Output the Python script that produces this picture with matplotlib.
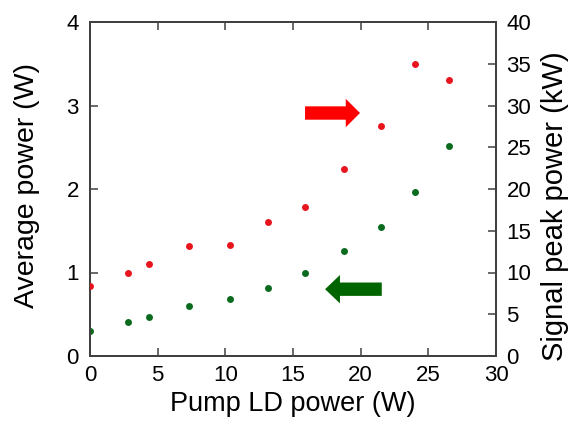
import matplotlib
matplotlib.use("Agg")
import matplotlib.pyplot as plt
from matplotlib.patches import FancyArrow

plt.rcParams['font.family'] = ['Liberation Sans', 'DejaVu Sans']

pump = [0.0, 2.83, 4.36, 7.32, 10.32, 13.13, 15.89, 18.75, 21.53, 24.02, 26.56]
avg_power = [0.30, 0.41, 0.47, 0.60, 0.68, 0.81, 1.00, 1.26, 1.54, 1.96, 2.51]
peak_power = [8.4, 10.0, 11.0, 13.2, 13.3, 16.0, 17.9, 22.4, 27.5, 35.0, 33.0]

xticks = [0, 5, 10, 15, 20, 25, 30]
lticks = [0, 1, 2, 3, 4]
rticks = [0, 5, 10, 15, 20, 25, 30, 35, 40]

green = '#0a6b1e'
red = '#e8141e'
spine_col = '#404040'

fig = plt.figure(figsize=(5.71, 4.26), dpi=100)
ax = fig.add_axes([90/571, 1-356/426, 406/571, 334/426])
ax2 = ax.twinx()

ax.plot(pump, avg_power, 'o', color=green, markersize=5, markeredgewidth=0, zorder=3)
ax2.plot(pump, peak_power, 'o', color=red, markersize=5, markeredgewidth=0, zorder=3)

ax.set_xlim(0, 30)
ax.set_ylim(0, 4)
ax2.set_ylim(0, 40)
ax.set_xticks(xticks)
ax.set_yticks(lticks)
ax2.set_yticks(rticks)

for a in (ax, ax2):
    for s in a.spines.values():
        s.set_color(spine_col)
        s.set_linewidth(1.3)
    a.tick_params(direction='in', length=6, width=1.1, color=spine_col,
                  labelsize=16)
ax.tick_params(axis='x', top=True, labeltop=False, pad=6.5)
ax.tick_params(axis='y', pad=8)
ax2.tick_params(axis='y', pad=7.5)

ax.set_xlabel('Pump LD power (W)', fontsize=19.5, labelpad=3.5)
ax.set_ylabel('Average power (W)', fontsize=20.5, labelpad=19)
ax2.set_ylabel('Signal peak power (kW)', fontsize=21, labelpad=7)
ax.yaxis.label.set_y(0.51)
ax2.yaxis.label.set_y(0.45)

# arrows (left-axis data coordinates)
ax.add_patch(FancyArrow(15.89, 2.91, 4.06, 0, width=0.16, head_width=0.34,
                        head_length=1.05, length_includes_head=True,
                        color='#ff0000', zorder=4, lw=0))
ax.add_patch(FancyArrow(21.56, 0.80, -4.19, 0, width=0.16, head_width=0.34,
                        head_length=1.1, length_includes_head=True,
                        color='#006400', zorder=4, lw=0))

fig.savefig('out.png', dpi=100)
